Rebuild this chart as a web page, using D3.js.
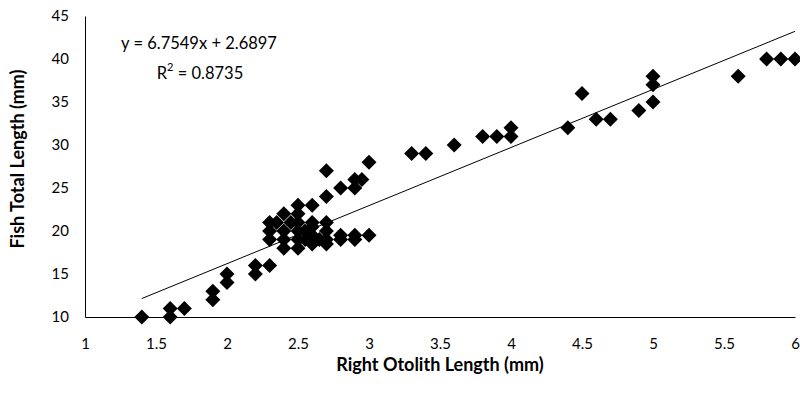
<!DOCTYPE html>
<html><head><meta charset="utf-8">
<script src="https://cdn.jsdelivr.net/npm/d3@7"></script>
<style>body{margin:0;background:#fff}svg{display:block;font-family:Lato,"Open Sans",sans-serif}</style>
</head><body><div id="chart"></div>
<script>
const otolith = [1.4,1.6,1.6,1.7,1.9,1.9,2.0,2.0,2.2,2.2,2.3,
 2.3,2.3,2.3,2.35,2.4,2.4,2.4,2.4,2.45,2.5,2.5,2.5,2.5,2.5,2.5,2.55,2.55,2.6,2.6,2.6,2.6,2.6,2.65,2.7,2.7,2.7,2.7,
 2.8,2.8,2.9,2.9,3.0,
 2.7,2.7,2.8,2.9,2.9,2.95,3.0,
 3.3,3.4,3.6,3.8,3.9,4.0,4.0,4.4,4.5,4.6,4.7,4.9,5.0,5.0,5.0,5.6,5.8,5.9,6.0];
const totalLength = [10,10,11,11,12,13,14,15,15,16,16,
 19,20,21,21,18,20,22,19,21,18,19,20,21,22,23,20,19,18.5,19.5,21,23,20.5,19,18.5,19,20,21,
 19,19.5,19,19.5,19.5,
 24,27,25,25,26,26,28,
 29,29,30,31,31,31,32,32,36,33,33,34,35,37,38,38,40,40,40];
const xTicks = [1,1.5,2,2.5,3,3.5,4,4.5,5,5.5,6];
const yTicks = [10,15,20,25,30,35,40,45];
const slope = 6.7549, intercept = 2.6897, r2 = "0.8735";

const W = 800, H = 401;
const svg = d3.select("#chart").append("svg").attr("width", W).attr("height", H);
const x = d3.scaleLinear().domain([1,6]).range([85,795]);
const y = d3.scaleLinear().domain([10,45]).range([317,16]);

// axes
const xAxis = svg.append("g").attr("transform","translate(0,317)")
  .call(d3.axisBottom(x).tickValues(xTicks).tickSize(0).tickPadding(21).tickFormat(d=>d));
const yAxis = svg.append("g").attr("transform","translate(85,0)")
  .call(d3.axisLeft(y).tickValues(yTicks).tickSize(0).tickPadding(16).tickFormat(d=>d));
[xAxis,yAxis].forEach(g=>{
  g.select(".domain").attr("stroke","#000").attr("stroke-width",1);
  g.selectAll("text").attr("font-size",15).attr("fill","#000").attr("font-family","Lato,sans-serif");
});

// trend line
const tx0 = d3.min(otolith), tx1 = d3.max(otolith);
svg.append("line")
  .attr("x1", x(tx0)).attr("y1", y(slope*tx0+intercept))
  .attr("x2", x(tx1)).attr("y2", y(slope*tx1+intercept))
  .attr("stroke","#000").attr("stroke-width",1);

// points
const r = 7.5;
const diamond = `M0,${-r}L${r},0L0,${r}L${-r},0Z`;
svg.append("g").selectAll("path").data(otolith.map((v,i)=>[v,totalLength[i]]))
  .join("path").attr("d", diamond)
  .attr("transform", d=>`translate(${x(d[0])},${y(d[1])})`)
  .attr("fill","#000");

// equation
const eq = svg.append("g").attr("font-size",16.5).attr("fill","#000").attr("text-anchor","middle");
eq.append("text").attr("x",199).attr("y",49).text(`y = ${slope}x + ${intercept}`);
const rt = eq.append("text").attr("x",200).attr("y",79);
rt.append("tspan").text("R");
rt.append("tspan").attr("dy",-8).attr("font-size",11).text("2");
rt.append("tspan").attr("dy",8).text(` = ${r2}`);

// titles
svg.append("text").attr("x",440).attr("y",371).attr("text-anchor","middle")
  .attr("font-size",18).attr("font-weight","bold").text("Right Otolith Length (mm)");
svg.append("text").attr("transform","translate(24,159) rotate(-90)").attr("text-anchor","middle")
  .attr("font-size",18).attr("font-weight","bold").text("Fish Total Length (mm)");
</script></body></html>
